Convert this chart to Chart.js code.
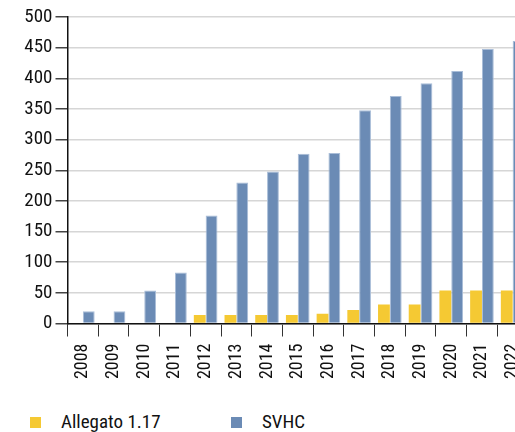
<!DOCTYPE html>
<html>
<head>
<meta charset="utf-8">
<script src="https://cdn.jsdelivr.net/npm/chart.js@4.4.0/dist/chart.umd.min.js"></script>
<style>
    html, body { margin: 0; padding: 0; background: #fff; overflow: hidden; }
    body { width: 515px; height: 432px; position: relative; }
    #wrap { position: absolute; left: 0; top: 0; width: 528px; height: 400px; }
    #legend { position: absolute; left: 30px; top: 412px; font-family: "Roboto Condensed", sans-serif; font-size: 19px; color: #111; }
    .item { position: absolute; top: 0; white-space: nowrap; }
    .box { position: absolute; top: 5px; width: 11px; height: 11px; }
    .lbl { position: absolute; left: 31px; top: 0; line-height: 20px; }
</style>
</head>
<body>
<div id="wrap"><canvas id="chart" width="528" height="400"></canvas></div>
<div id="legend"></div>
<script>
// values
const years = ['2008', '2009', '2010', '2011', '2012', '2013', '2014', '2015', '2016', '2017', '2018', '2019', '2020', '2021', '2022'];
const allegato = [0, 0, 0, 0, 14, 14, 14, 14, 16, 22, 31, 31, 54, 54, 54];
const svhc = [20, 20, 54, 83, 176, 230, 248, 277, 278, 348, 371, 392, 412, 448, 461];
const seriesNames = ['Allegato 1.17', 'SVHC'];
const seriesColors = ['#f5c933', '#6b8bb5'];
const seriesBorders = ['#f5c933', '#a9bdd8'];

const font = "'Roboto Condensed', sans-serif";

document.addEventListener('DOMContentLoaded', function() {
    buildChart();
    buildLegend();
});

function buildChart() {
    const ctx = document.getElementById('chart');
    const seriesData = [allegato, svhc];

    new Chart(ctx, {
        type: 'bar',
        data: {
            labels: years,
            datasets: seriesNames.map((name, i) => ({
                label: name,
                data: seriesData[i],
                backgroundColor: seriesColors[i],
                borderColor: seriesBorders[i],
                borderWidth: i === 1 ? { left: 1, top: 1, right: 1, bottom: 0 } : 0,
                categoryPercentage: 0.77,
                barPercentage: 1.0
            }))
        },
        options: {
            responsive: false,
            animation: false,
            layout: { padding: { top: 17, left: 0, right: 0, bottom: 0 } },
            plugins: {
                legend: { display: false },
                tooltip: { enabled: false }
            },
            scales: {
                x: {
                    grid: {
                        drawOnChartArea: false,
                        color: '#333',
                        tickLength: 13
                    },
                    border: { color: '#111', width: 1.5 },
                    ticks: {
                        color: '#111',
                        font: { family: font, size: 18 },
                        minRotation: 90,
                        maxRotation: 90,
                        padding: 7,
                        autoSkip: false
                    },
                    afterFit: function(scale) {
                        scale.height = 400 - 323.5;
                        scale.paddingLeft = 0;
                        scale.paddingRight = 0;
                    }
                },
                y: {
                    min: 0,
                    max: 500,
                    ticks: {
                        stepSize: 50,
                        color: '#111',
                        font: { family: font, size: 19 },
                        padding: 3
                    },
                    grid: {
                        color: '#d6d6d6',
                        lineWidth: 1.5,
                        tickColor: '#444',
                        tickLength: 12
                    },
                    border: { color: '#111', width: 1.5 },
                    afterFit: function(scale) { scale.width = 67.5; }
                }
            }
        }
    });
}

function buildLegend() {
    const legend = document.getElementById('legend');
    const offsets = [0, 201];
    seriesNames.forEach((name, i) => {
        const item = document.createElement('div');
        item.className = 'item';
        item.style.left = offsets[i] + 'px';
        item.innerHTML = '<span class="box" style="background:' + seriesColors[i] + '"></span><span class="lbl">' + name + '</span>';
        legend.appendChild(item);
    });
}
</script>
</body>
</html>
